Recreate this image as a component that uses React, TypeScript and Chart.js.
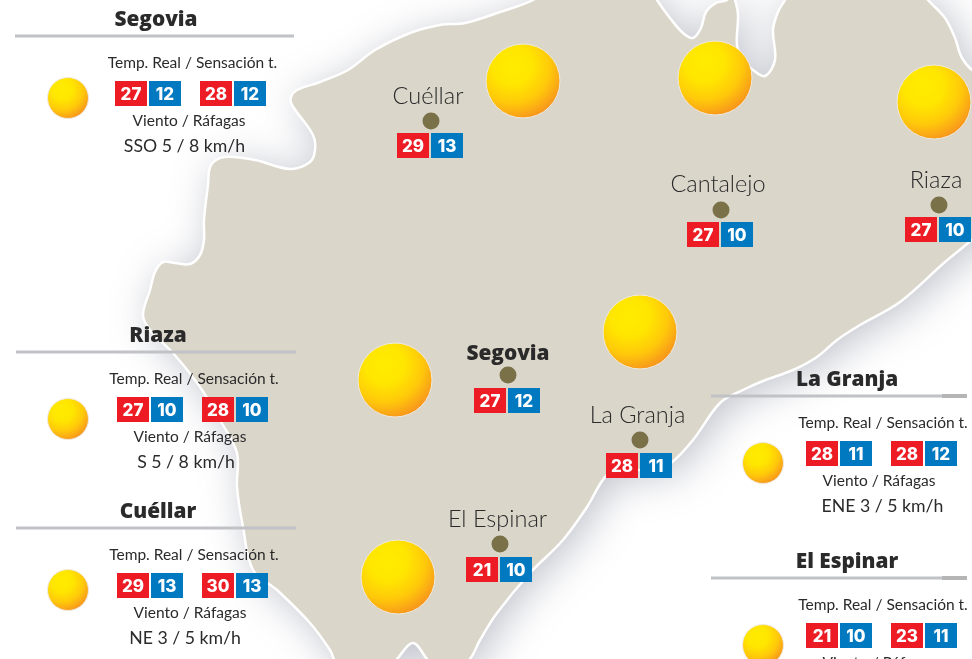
import React, { useEffect, useRef } from "react";
import { Chart, registerables } from "chart.js";

Chart.register(...registerables);

// Map outline on the picture's own coordinate scale
const landX = [545,650,657,670,683,693,701,706,716,727,731,735,738,737,743,753,765,775,773,778,785,790,920,928,945,955,962,975,990,990,972,945,900,860,837,817,793,763,743,720,693,671,655,625,607,587,563,530,497,480,470,458,435,427,413,397,390,340,330,310,277,253,243,237,237,220,200,173,150,143,150,155,163,175,190,200,204,204,208,211,225,255,290,310,315,313,292,291,297,320,348,375,410,440,465,500,533,545];
const landY = [-12,-12,0,18,33,38,28,12,3,0,-8,0,15,45,60,70,76,60,30,12,0,-10,-10,0,18,38,58,72,75,225,240,262,302,325,340,357,370,381,390,403,440,463,470,470,475,507,540,573,613,640,659,668,668,659,643,659,668,668,650,623,590,570,527,487,453,420,387,353,330,315,290,272,262,263,264,255,240,220,185,165,157,160,169,162,150,135,105,97,90,82,70,50,33,25,23,12,0,-12];

// Towns on the map
const townNames = ["Cuéllar", "Cantalejo", "Riaza", "Segovia", "La Granja", "El Espinar"];
const townX = [431, 721, 939, 508, 640, 500];
const townY = [121, 210, 205, 375, 440, 544];
const townTemp = [29, 27, 27, 27, 28, 21];
const townFeel = [13, 10, 10, 12, 11, 10];

// Suns
const sunX = [523, 715, 934, 640, 395, 398, 68, 68, 68, 763, 763];
const sunY = [81, 78, 102, 332, 380, 577, 98, 419, 590, 463, 645];
const sunSize = [37, 37, 37, 37, 37, 37, 20.5, 20.5, 20.5, 20.5, 20.5];

// Side panels
const panelNames = ["Segovia", "Riaza", "Cuéllar", "La Granja", "El Espinar"];
const panelTempA = [27, 27, 29, 28, 21];
const panelFeelA = [12, 10, 13, 11, 10];
const panelTempB = [28, 28, 30, 28, 23];
const panelFeelB = [12, 10, 13, 12, 11];
const panelWind = ["SSO 5 / 8 km/h", "S 5 / 8 km/h", "NE 3 / 5 km/h", "ENE 3 / 5 km/h", ""];
const tempHeading = "Temp. Real / Sensación t.";
const windHeading = "Viento / Ráfagas";

// Layout of the panels
const panelRule = [36, 352, 528, 396, 578];
const panelRuleL = [15, 16, 16, 711, 711];
const panelRuleR = [294, 296, 296, 967, 967];
const panelTitleX = [156, 158, 158, 847, 847];
const panelTempX = [192.5, 194, 194, 883, 883];
const panelBadgeA = [115, 117, 117, 806, 806];
const panelBadgeB = [200, 202, 202, 891, 891];
const panelWindHeadX = [189, 190, 190, 879, 879];
const panelWindX = [184.5, 186, 185, 882.5, 882.5];
const townBadgeX = [397, 687, 905, 474, 606, 466];
const townBadgeY = [133, 222, 217, 388, 453, 557];
const townLabelX = [428, 718, 936, 508, 637.5, 497.5];
const townLabelY = [104, 192, 188, 360, 423, 527];

const INK = "#2b2a2b";
const RED = "#ed1c24";
const BLUE = "#0079c1";
const LIGHT = '"Lato", sans-serif';
const BOLD = '"Open Sans", sans-serif';

const mapPlugin = {
  id: "mapPlugin",
  beforeDatasetsDraw(chart: any) {
    // soft shadow of the land
    const meta = chart.getDatasetMeta(0);
    const line = meta.dataset;
    const ctx = chart.ctx;
    ctx.save();
    ctx.beginPath();
    line.path(ctx);
    ctx.closePath();
    ctx.shadowColor = "rgba(115,120,140,0.45)";
    ctx.shadowBlur = 42;
    ctx.shadowOffsetX = 7;
    ctx.shadowOffsetY = 6;
    ctx.fillStyle = "#dad6ca";
    ctx.fill();
    ctx.restore();
  },
  afterDatasetsDraw(chart: any) {
    const ctx = chart.ctx;
    const sx = chart.scales.x;
    const sy = chart.scales.y;
    const X = (v: number) => sx.getPixelForValue(v);
    const Y = (v: number) => sy.getPixelForValue(v);

    const text = (s: string, x: number, y: number, font: string, color = INK) => {
      ctx.font = font;
      ctx.fillStyle = color;
      ctx.textAlign = "center";
      ctx.textBaseline = "alphabetic";
      ctx.fillText(s, X(x), Y(y));
    };
    const badge = (x: number, y: number, a: number, b: number) => {
      ctx.fillStyle = RED;
      ctx.fillRect(X(x), Y(y), 32, 25);
      ctx.fillStyle = BLUE;
      ctx.fillRect(X(x + 34), Y(y), 32, 25);
      ctx.font = '800 17px "Inter", sans-serif';
      ctx.fillStyle = "#ffffff";
      ctx.textAlign = "center";
      ctx.textBaseline = "alphabetic";
      ctx.fillText(String(a), X(x + 16), Y(y + 19));
      ctx.fillText(String(b), X(x + 50), Y(y + 19));
    };

    townNames.forEach((n, i) => {
      const bold = n === "Segovia";
      text(n, townLabelX[i], townLabelY[i], bold ? `800 20.8px ${BOLD}` : `300 23.5px ${LIGHT}`);
      badge(townBadgeX[i], townBadgeY[i], townTemp[i], townFeel[i]);
    });

    panelNames.forEach((n, i) => {
      const r = panelRule[i];
      text(n, panelTitleX[i], r - 10, `800 20.8px ${BOLD}`);
      ctx.fillStyle = "#c0c2c6";
      ctx.fillRect(X(panelRuleL[i]), Y(r - 1.5), X(panelRuleR[i]) - X(panelRuleL[i]), 3);
      if (i >= 3) {
        ctx.fillStyle = "#b5b5b6";
        ctx.fillRect(X(942), Y(r - 2), X(panelRuleR[i]) - X(942), 4);
      }
      text(tempHeading, panelTempX[i], r + 32, `400 15.5px ${LIGHT}`);
      badge(panelBadgeA[i], r + 45, panelTempA[i], panelFeelA[i]);
      badge(panelBadgeB[i], r + 45, panelTempB[i], panelFeelB[i]);
      text(windHeading, panelWindHeadX[i], r + 90, `400 15.5px ${LIGHT}`);
      if (panelWind[i]) text(panelWind[i], panelWindX[i], r + 116, `400 17.7px ${LIGHT}`);
    });
  },
};

function sunFill(c: any) {
  const raw = c.raw;
  if (!raw) return "#ffd400";
  const x = c.chart.scales.x.getPixelForValue(raw.x);
  const y = c.chart.scales.y.getPixelForValue(raw.y);
  if (!Number.isFinite(x) || !Number.isFinite(y)) return "#ffd400";
  const r = raw.r;
  const cx = x - 0.28 * r;
  const cy = y - 0.42 * r;
  const g = c.chart.ctx.createRadialGradient(cx, cy, 0, cx, cy, 1.5 * r);
  g.addColorStop(0, "#ffec00");
  g.addColorStop(0.35, "#ffe600");
  g.addColorStop(0.68, "#ffc90a");
  g.addColorStop(1, "#f7941d");
  return g;
}

export default function App() {
  const ref = useRef<HTMLCanvasElement>(null);
  useEffect(() => {
    const chart = new Chart(ref.current as HTMLCanvasElement, {
      type: "scatter",
      plugins: [mapPlugin],
      data: {
        datasets: [
          {
            label: "Tierra",
            order: 3,
            data: landX.map((x, i) => ({ x, y: landY[i] })),
            showLine: true,
            fill: "shape",
            backgroundColor: "#dad6ca",
            borderColor: "#ffffff",
            borderWidth: 2.5,
            pointRadius: 0,
            tension: 0.35,
            clip: false,
          },
          {
            type: "bubble",
            label: "Sol",
            order: 1,
            clip: false,
            data: sunX.map((x, i) => ({ x, y: sunY[i], r: sunSize[i] })),
            backgroundColor: sunFill,
            borderColor: "#eeeadf",
            borderWidth: 1,
          },
          {
            label: "Localidades",
            order: 2,
            clip: false,
            data: townX.map((x, i) => ({ x, y: townY[i] })),
            backgroundColor: "#7a7149",
            borderColor: "#7a7149",
            pointRadius: 8.5,
            borderWidth: 0,
          },
        ],
      } as any,
      options: {
        animation: false,
        responsive: false,
        events: [],
        layout: { padding: 0, autoPadding: false },
        elements: { line: { capBezierPoints: false } },
        plugins: { legend: { display: false }, tooltip: { enabled: false } },
        scales: {
          x: { type: "linear", display: false, min: 0, max: 972 },
          y: { type: "linear", display: false, min: 0, max: 659, reverse: true },
        },
      } as any,
    });
    return () => chart.destroy();
  }, []);
  return (
    <div style={{ position: "absolute", left: 0, top: 0, width: 972, height: 659, overflow: "hidden", background: "#fff" }}>
      <canvas ref={ref} width={972} height={659} style={{ display: "block" }} />
    </div>
  );
}
